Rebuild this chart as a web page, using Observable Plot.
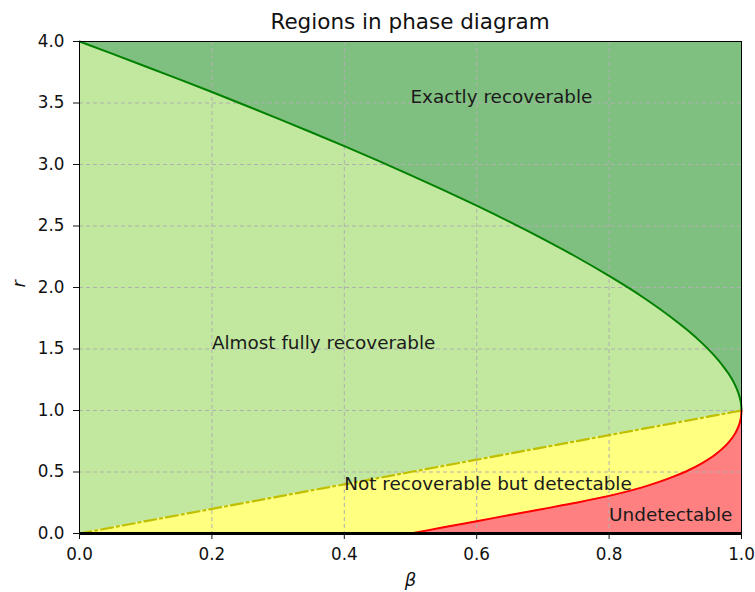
<!DOCTYPE html>
<html>
<head>
<meta charset="utf-8">
<script src="https://cdn.jsdelivr.net/npm/d3@7"></script>
<script src="https://cdn.jsdelivr.net/npm/@observablehq/plot@0.6"></script>
<style>
  body { margin: 0; background: white; font-family: "DejaVu Sans", sans-serif; }
  #title {
    box-sizing: border-box; height: 30px; width: 755px;
    padding: 11px 14px 0 79px; line-height: 21.5px; position: relative; z-index: 2;
    font-size: 21.5px; text-align: center; color: #111; white-space: nowrap;
  }
</style>
</head>
<body>
<div id="title">Regions in phase diagram</div>
<div id="chart"></div>
<script>
// Sparsity exponent β along the horizontal axis
const beta = [0, 0.05, 0.1, 0.15, 0.2, 0.25, 0.3, 0.35, 0.4, 0.45, 0.5, 0.55, 0.6, 0.65, 0.7,
  0.75, 0.8, 0.85, 0.9, 0.92, 0.94, 0.96, 0.97, 0.98, 0.99, 0.995, 0.998, 0.9995, 1];
// Exact-recovery boundary
const exact = [4, 3.899, 3.797, 3.694, 3.589, 3.482, 3.373, 3.262, 3.149, 3.033, 2.914, 2.792,
  2.665, 2.533, 2.395, 2.25, 2.094, 1.925, 1.732, 1.646, 1.55, 1.44, 1.376, 1.303, 1.21,
  1.146, 1.091, 1.045, 1];
// Almost-full-recovery boundary
const almost = [0, 0.05, 0.1, 0.15, 0.2, 0.25, 0.3, 0.35, 0.4, 0.45, 0.5, 0.55, 0.6, 0.65, 0.7,
  0.75, 0.8, 0.85, 0.9, 0.92, 0.94, 0.96, 0.97, 0.98, 0.99, 0.995, 0.998, 0.9995, 1];
// Detection boundary
const detect = [0, 0, 0, 0, 0, 0, 0, 0, 0, 0, 0, 0.05, 0.1, 0.15, 0.2, 0.25, 0.306, 0.375,
  0.468, 0.514, 0.57, 0.64, 0.684, 0.737, 0.81, 0.864, 0.913, 0.956, 1];

const xTicks = [0, 0.2, 0.4, 0.6, 0.8, 1.0];
const yTicks = [0, 0.5, 1.0, 1.5, 2.0, 2.5, 3.0, 3.5, 4.0];
const xDomain = [0, 1];
const yDomain = [0, 4];

const regionNames = ["Exactly recoverable", "Almost fully recoverable",
  "Not recoverable but detectable", "Undetectable"];
const regionBeta = [0.5, 0.2, 0.4, 0.8];
const regionR = [3.5, 1.5, 0.35, 0.1];

const rows = beta.map((b, i) => ({beta: b, exact: exact[i], almost: almost[i], detect: detect[i]}));
const notes = regionNames.map((t, i) => ({text: t, beta: regionBeta[i], r: regionR[i]}));
const rMax = yDomain[1];
const rMin = yDomain[0];

const grid = {stroke: "#b0b0b0", strokeOpacity: 1, strokeWidth: 1, strokeDasharray: "4,3"};

const chart = Plot.plot({
  width: 755,
  height: 562,
  marginLeft: 79,
  marginRight: 14,
  marginTop: 11,
  marginBottom: 59,
  style: {fontFamily: "DejaVu Sans", fontSize: "16.8px", color: "#111", background: "transparent", overflow: "visible"},
  x: {domain: xDomain},
  y: {domain: yDomain},
  marks: [
    Plot.areaY(rows, {x: "beta", y1: "exact", y2: () => rMax, fill: "#7fbf7f", curve: "monotone-x"}),
    Plot.areaY(rows, {x: "beta", y1: "almost", y2: "exact", fill: "#c2e8a0", curve: "monotone-x"}),
    Plot.areaY(rows, {x: "beta", y1: "detect", y2: "almost", fill: "#ffff80", curve: "monotone-x"}),
    Plot.areaY(rows, {x: "beta", y1: () => rMin, y2: "detect", fill: "#ff8080", curve: "monotone-x"}),
    Plot.gridX(xTicks, grid),
    Plot.gridY(yTicks, grid),
    Plot.lineY(rows, {x: "beta", y: "exact", stroke: "#008000", strokeWidth: 2, curve: "monotone-x"}),
    Plot.lineY(rows, {x: "beta", y: "almost", stroke: "#bfbf00", strokeWidth: 2.2, strokeDasharray: "12,4,2,4"}),
    Plot.lineY(rows.filter(d => d.beta >= 0.5), {x: "beta", y: "detect", stroke: "#ff0000", strokeWidth: 2, curve: "monotone-x"}),
    Plot.ruleY([rMin], {stroke: "black", strokeWidth: 3}),
    Plot.frame({stroke: "black", strokeWidth: 1}),
    Plot.axisX({ticks: xTicks, tickFormat: d3.format(".1f"), tickSize: 6, tickPadding: 9, label: null}),
    Plot.axisY({ticks: yTicks, tickFormat: d3.format(".1f"), tickSize: 6, tickPadding: 9, label: null}),
    Plot.text(notes, {x: "beta", y: "r", text: "text", textAnchor: "start", lineAnchor: "bottom",
      fontSize: 18.4, fill: "#1a1a1a"}),
    Plot.text(["β"], {frameAnchor: "bottom", dy: 52, fontSize: 18, fontStyle: "italic", fill: "#111"}),
    Plot.text(["r"], {frameAnchor: "left", dx: -60, rotate: -90, fontSize: 18, fontStyle: "italic", fill: "#111"})
  ]
});
document.getElementById("chart").appendChild(chart);
</script>
</body>
</html>
